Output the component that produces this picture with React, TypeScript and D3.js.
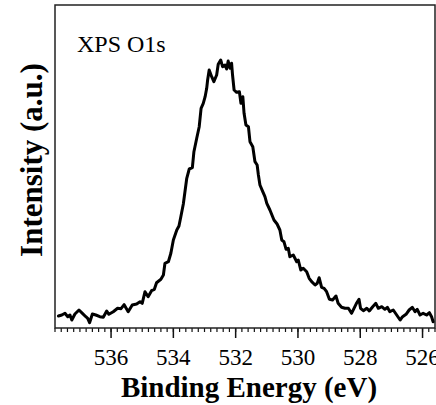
import * as d3 from 'd3'

// O1s spectrum (binding energy in eV, intensity in a.u.)
const bindingEnergy = [
  537.69, 537.58, 537.48, 537.39, 537.32, 537.26, 537.16, 537.03, 536.92, 536.81,
  536.75, 536.69, 536.60, 536.49, 536.36, 536.25, 536.14, 536.07, 535.93, 535.79,
  535.68, 535.58, 535.45, 535.32, 535.18, 535.07, 535.00, 534.91, 534.81, 534.70,
  534.61, 534.54, 534.40, 534.32, 534.27, 534.16, 534.08, 534.00, 533.89, 533.82,
  533.76, 533.68, 533.57, 533.49, 533.39, 533.34, 533.25, 533.17, 533.11, 533.04,
  532.98, 532.93, 532.90, 532.85, 532.77, 532.70, 532.61, 532.56, 532.48, 532.42,
  532.34, 532.29, 532.24, 532.18, 532.13, 532.10, 532.05, 531.97, 531.88, 531.83,
  531.77, 531.73, 531.67, 531.59, 531.54, 531.45, 531.38, 531.31, 531.27, 531.22,
  531.13, 531.06, 531.00, 530.90, 530.77, 530.67, 530.58, 530.52, 530.45, 530.38,
  530.31, 530.26, 530.15, 530.04, 529.99, 529.91, 529.83, 529.72, 529.64, 529.56,
  529.45, 529.38, 529.32, 529.24, 529.16, 529.08, 528.99, 528.89, 528.78, 528.71,
  528.60, 528.49, 528.38, 528.28, 528.20, 528.11, 528.04, 527.99, 527.90, 527.79,
  527.71, 527.60, 527.50, 527.42, 527.31, 527.21, 527.13, 527.05, 526.94, 526.83,
  526.72, 526.64, 526.53, 526.43, 526.33, 526.24, 526.17, 526.08, 525.98, 525.87,
  525.78, 525.71, 525.66
]

const intensity = [
  12, 13, 14.7, 11.3, 13, 8, 14, 18, 14.7, 11.3,
  9.7, 5.3, 14, 13, 11.3, 10.7, 17, 13.7, 16.3, 19.7,
  19.3, 23.3, 16.3, 23, 24, 26.3, 24.7, 36.3, 31.3, 37.3,
  38.7, 45.3, 48.7, 53, 64.7, 66.3, 74.7, 88, 98, 102,
  111.3, 124, 149.7, 159, 160.3, 176.3, 189.7, 201.3, 219.7, 224.7,
  231.3, 239.7, 248, 258, 251.3, 246.3, 253, 263.7, 268, 261.3,
  263, 259, 267, 259.7, 264.7, 253, 238, 235.7, 236.3, 224.7,
  231.3, 214.7, 203, 201.3, 186.3, 181.3, 166.3, 163, 153, 143,
  136.3, 131.3, 124.7, 118, 108, 104, 98, 88, 86.3, 78.7,
  79.7, 71.3, 73, 66.3, 68, 58, 59.7, 56.3, 49.7, 46.3,
  43, 44.7, 50.3, 40.7, 39.7, 36.3, 28.7, 28, 32, 24.7,
  20.7, 19.7, 19.7, 14.7, 19.7, 25.3, 28.7, 19.7, 17.3, 19.7,
  17, 21.3, 24.7, 19.7, 21.3, 18.7, 20.7, 16.3, 18, 13,
  8, 11.3, 13.7, 18, 20.7, 16.3, 18.7, 13, 14.7, 13,
  15.3, 11.3, 6.3
]

const majorTicks = [536, 534, 532, 530, 528, 526]
const energyRange = [537.8, 525.6]
const intensityRange = [0, 323]

const serif = '"Liberation Serif"'

const width = 436
const height = 405
const margin = { top: 5, right: 1, bottom: 77, left: 55 }

export default function App() {
  const bottom = height - margin.bottom

  const x = d3.scaleLinear()
    .domain(energyRange)
    .range([margin.left, width - margin.right])

  const y = d3.scaleLinear()
    .domain(intensityRange)
    .range([bottom, margin.top])

  // minor ticks every 0.2 eV
  const minorTicks = d3.range(5378, 5255, -2).map(v => v / 10)

  const points = bindingEnergy.map((e, i) => [e, intensity[i]] as [number, number])
  const line = d3.line<[number, number]>()
    .x(d => x(d[0]))
    .y(d => y(d[1]))

  return (
    <svg
      width={width}
      height={height}
      style={{ position: 'absolute', left: 0, top: 0, display: 'block', background: '#fff' }}
    >
      {/* minor ticks */}
      {minorTicks.map(t => (
        <line key={'m' + t} x1={x(t)} x2={x(t)} y1={bottom} y2={bottom + 4} stroke="#111" strokeWidth={1.2} />
      ))}
      {/* major ticks + labels */}
      {majorTicks.map(t => (
        <g key={'M' + t} transform={`translate(${x(t)},${bottom})`}>
          <line y1={0} y2={10} stroke="#111" strokeWidth={1.5} />
          <text y={37} textAnchor="middle" fontFamily={serif} fontSize={23} fill="#000">
            {t}
          </text>
        </g>
      ))}

      {/* frame */}
      <rect
        x={margin.left}
        y={margin.top}
        width={width - margin.right - margin.left}
        height={bottom - margin.top}
        fill="none"
        stroke="#222"
        strokeWidth={1.5}
      />

      <path
        d={line(points) || ''}
        fill="none"
        stroke="#000"
        strokeWidth={3}
        strokeLinejoin="round"
        strokeLinecap="round"
      />

      <text x={77} y={52} fontFamily={serif} fontSize={24} fill="#000">XPS O1s</text>

      <text x={249} y={397} textAnchor="middle" fontFamily={serif} fontSize={29} fontWeight="bold" fill="#000">
        Binding Energy (eV)
      </text>

      <text
        transform="translate(42,160) rotate(-90)"
        textAnchor="middle"
        fontFamily={serif}
        fontSize={31}
        fontWeight="bold"
        fill="#000"
      >
        Intensity (a.u.)
      </text>
    </svg>
  )
}
